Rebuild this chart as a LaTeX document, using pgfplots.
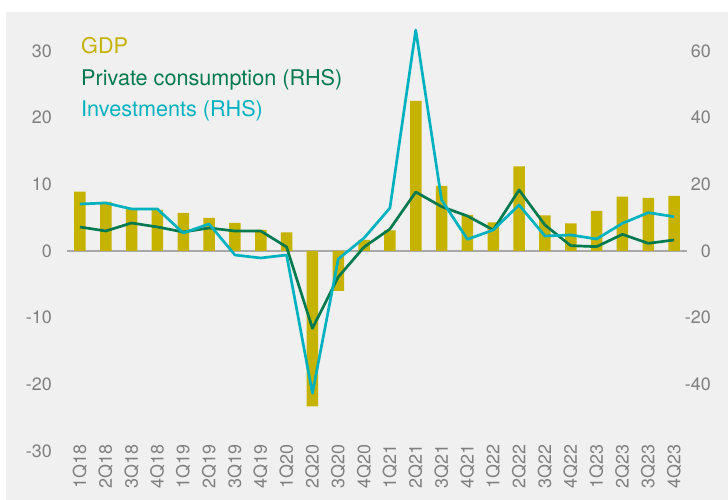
\documentclass[border=0pt]{standalone}
\usepackage{fontspec}
\setmainfont{TeX Gyre Heros}
\usepackage{pgfplots}
\pgfplotsset{compat=1.18}
\definecolor{bg}{RGB}{240,240,240}
\definecolor{gdp}{RGB}{197,179,0}
\definecolor{pc}{RGB}{0,122,78}
\definecolor{inv}{RGB}{0,178,192}
\definecolor{tickc}{RGB}{128,128,128}
\definecolor{zeroc}{RGB}{168,168,168}
\begin{document}
\begin{tikzpicture}[x=1bp,y=1bp]
\useasboundingbox (0,0) rectangle (728,500);
\fill[white] (0,0) rectangle (728,500);
\fill[bg] (6,0) rectangle (728,488);
\begin{axis}[
  at={(67bp,49bp)}, anchor=south west, scale only axis,
  width=620bp, height=433.33bp,
  xmin=-0.5, xmax=23.5, ymin=-30, ymax=35,
  axis line style={draw=none}, major tick length=0pt,
  xtick={0,...,23},
  xticklabels={1Q18,2Q18,3Q18,4Q18,1Q19,2Q19,3Q19,4Q19,1Q20,2Q20,3Q20,4Q20,1Q21,2Q21,3Q21,4Q21,1Q22,2Q22,3Q22,4Q22,1Q23,2Q23,3Q23,4Q23},
  ytick={-30,-20,...,30},
  tick label style={font=\fontsize{18}{18}\selectfont, text=tickc, inner sep=0pt},
  xticklabel style={rotate=90, anchor=east},
  xticklabel shift=-7bp,
  yticklabel style={anchor=east, xshift=-15bp},
  /pgf/number format/assume math mode=true,
  clip=false,
  ybar, bar width=11.5bp,
]
\draw[zeroc, line width=1.6bp] (axis cs:-0.5,0) -- (axis cs:23.5,0);
\addplot[fill=gdp, draw=none] coordinates {
(0,8.9) (1,7.35) (2,6.4) (3,6.15) (4,5.7) (5,4.95) (6,4.2) (7,3.15) (8,2.8) (9,-23.3) (10,-6.0) (11,1.65)
(12,3.1) (13,22.5) (14,9.75) (15,5.4) (16,4.3) (17,12.7) (18,5.35) (19,4.15) (20,6.0) (21,8.15) (22,7.95) (23,8.25)};
\end{axis}
\begin{axis}[
  at={(67bp,49bp)}, anchor=south west, scale only axis,
  width=620bp, height=433.33bp,
  xmin=-0.5, xmax=23.5, ymin=-60, ymax=70,
  axis line style={draw=none}, major tick length=0pt,
  xtick=\empty,
  ytick={-40,-20,...,60},
  yticklabel pos=right,
  tick label style={font=\fontsize{18}{18}\selectfont, text=tickc, inner sep=0pt},
  yticklabel style={anchor=east, xshift=24bp},
  /pgf/number format/assume math mode=true,
  clip=false,
]
\addplot[pc, line width=2.7bp, line join=round] coordinates {
(0,7.2) (1,6.0) (2,8.4) (3,7.2) (4,5.7) (5,6.9) (6,6.0) (7,6.0) (8,1.2) (9,-23.2) (10,-7.8) (11,1.2)
(12,6.6) (13,17.7) (14,13.3) (15,10.5) (16,6.3) (17,18.3) (18,7.8) (19,1.6) (20,1.3) (21,5.0) (22,2.3) (23,3.3)};
\addplot[inv, line width=2.7bp, line join=round] coordinates {
(0,14.1) (1,14.4) (2,12.6) (3,12.6) (4,5.4) (5,8.1) (6,-1.2) (7,-2.1) (8,-1.2) (9,-42.7) (10,-2.4) (11,3.9)
(12,12.9) (13,66.3) (14,15.3) (15,3.5) (16,6.3) (17,13.8) (18,4.5) (19,4.8) (20,3.6) (21,8.3) (22,11.5) (23,10.3)};
\end{axis}
\begin{scope}[every node/.style={anchor=base west, inner sep=0pt, font=\fontsize{21.7}{21.7}\selectfont}]
\node[text=gdp] at (81,446) {GDP};
\node[text=pc] at (81,414) {Private consumption (RHS)};
\node[text=inv] at (81,383) {Investments (RHS)};
\end{scope}
\end{tikzpicture}
\end{document}
